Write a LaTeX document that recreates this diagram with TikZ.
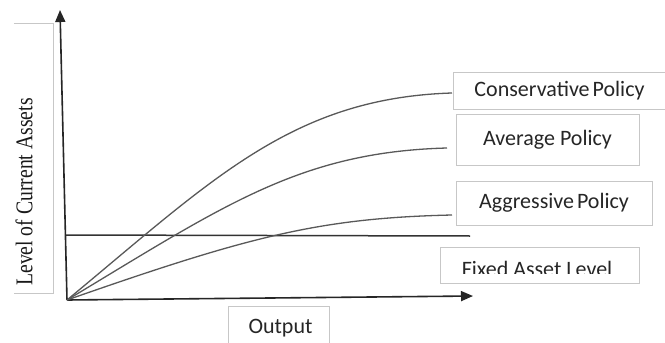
\documentclass[tikz,border=0pt]{standalone}
\usepackage{fontspec}
\setmainfont{Liberation Serif}
\newfontfamily\boxfont{Carlito}
\usetikzlibrary{arrows.meta}
\tikzset{
  lbox/.style={draw=black!22, line width=0.8pt, inner sep=0pt, font=\boxfont\fontsize{22}{22}\selectfont, text=black!85},
  axis/.style={line width=1.6pt, draw=black!85, -{Triangle[length=12pt,width=10pt]}},
  curve/.style={line width=1.3pt, draw=black!65},
  fixedline/.style={line width=1.5pt, draw=black!80}
}
\begin{document}
\begin{tikzpicture}[x=1pt,y=-1pt]
\useasboundingbox[fill=white] (0,0) rectangle (665,343);
% y label
\node[inner sep=0pt, minimum width=39pt, minimum height=269pt] (ylbox) at (33.5,158.5) {};
\draw[draw=black!22, line width=0.8pt] (ylbox.north west) -- (ylbox.north east) -- (ylbox.south east) -- (ylbox.south west);
\node[rotate=90, inner sep=0pt, font=\fontsize{24}{24}\selectfont, text=black!90] (ylab) at (24,192) {\scalebox{0.82}[1]{Level of Current Assets}};
% axes
\coordinate (O) at (67,300);
\coordinate (ytip) at (60,10);
\coordinate (xtip) at (473,296);
\draw[axis] (O) -- (ytip);
\draw[axis] (O) -- (xtip);
% fixed asset line
\coordinate (f1) at (66,235);
\coordinate (f2) at (470,236);
\draw[fixedline] (f1) -- (f2);
% curves
\coordinate (cEnd) at (452,93);
\coordinate (aEnd) at (447,148);
\coordinate (gEnd) at (452,215);
\draw[curve] (O) .. controls (212,180) and (292,98) .. (cEnd);
\draw[curve] (O) .. controls (225,205) and (300,152) .. (aEnd);
\draw[curve] (O) .. controls (250,236) and (320,218) .. (gEnd);
% label boxes
\node[lbox, minimum width=213pt, minimum height=37pt] (cons) at (559.5,90.5) {Conservative\hspace{-2pt} Policy};
\node[lbox, minimum width=183pt, minimum height=51pt] (avg) at (547.5,139.5) {Average Policy};
\node[lbox, minimum width=196pt, minimum height=44pt] (aggr) at (554,203) {Aggressive\hspace{-2pt} Policy};
\node[lbox, minimum width=199pt, minimum height=36pt] (fixed) at (539.5,265) {};
\begin{scope}
\clip (440,247) rectangle (640,273.5);
\node[inner sep=0pt, font=\boxfont\fontsize{22}{22}\selectfont, text=black!85, anchor=base] (fixedtxt) at (537,276) {Fixed Asset Level};
\end{scope}
\node[lbox, minimum width=101pt, minimum height=50pt] (out) at (278.5,331) {};
\node[inner sep=0pt, font=\boxfont\fontsize{22}{22}\selectfont, text=black!85] (outtxt) at (280.5,328) {Output};
\end{tikzpicture}
\end{document}
